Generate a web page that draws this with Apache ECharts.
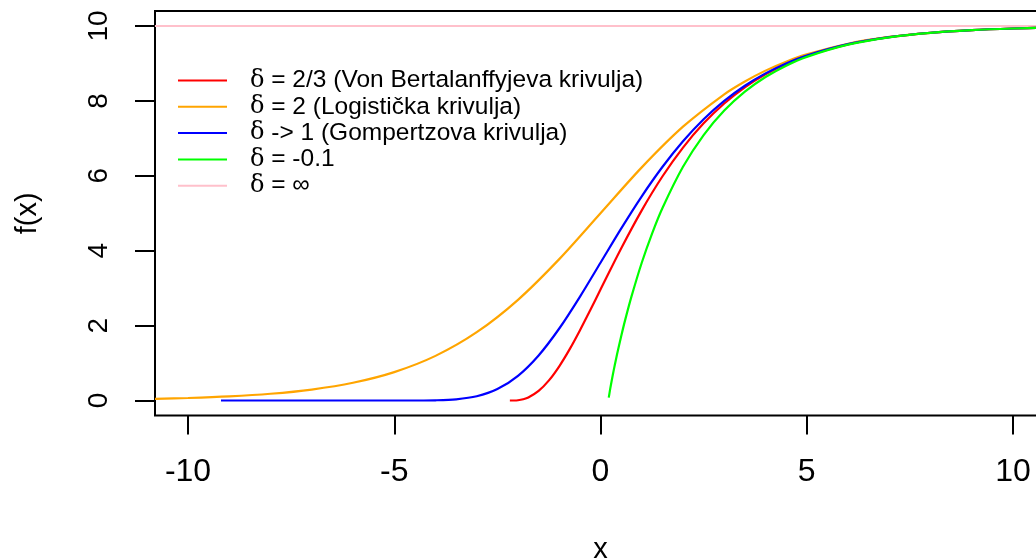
<!DOCTYPE html>
<html>
<head>
<meta charset="utf-8">
<script src="https://cdn.jsdelivr.net/npm/echarts@6/dist/echarts.min.js"></script>
<style>
html,body{margin:0;padding:0;background:#fff;}
#chart{width:1036px;height:560px;}
</style>
</head>
<body>
<div id="chart"></div>
<script>
// ---- data ----
var xTicks = [-10, -5, 0, 5, 10];
var yTicks = [0, 2, 4, 6, 8, 10];

var names = [
  'δ = 2/3 (Von Bertalanffyjeva krivulja)',
  'δ = 2 (Logistička krivulja)',
  'δ -> 1 (Gompertzova krivulja)',
  'δ = -0.1',
  'δ = ∞'
];
var colors = ['#FF0000', '#FFA500', '#0000FF', '#00FF00', '#FFC0CB'];

var redX = [-2.197, -2.1, -2, -1.875, -1.75, -1.5, -1.25, -1, -0.75, -0.5, -0.25, 0, 0.5, 1, 1.5, 2, 2.5, 3, 3.5, 4, 4.5, 5, 6, 7, 8, 9, 10, 10.8];
var redY = [0, 0.001, 0.008, 0.034, 0.080, 0.255, 0.537, 0.914, 1.365, 1.871, 2.410, 2.963, 4.059, 5.078, 5.981, 6.754, 7.400, 7.931, 8.361, 8.707, 8.983, 9.201, 9.510, 9.701, 9.818, 9.889, 9.933, 9.955];

var orangeX = [-10.8, -10, -9, -8, -7, -6, -5, -4, -3, -2, -1, 0, 1, 2, 3, 3.5, 4, 4.5, 5, 6, 7, 8, 9, 10, 10.8];
var orangeY = [0.045, 0.067, 0.110, 0.180, 0.293, 0.474, 0.759, 1.192, 1.824, 2.689, 3.775, 5.000, 6.225, 7.311, 8.176, 8.519, 8.808, 9.047, 9.241, 9.526, 9.707, 9.820, 9.890, 9.933, 9.955];

var blueX = [-9.2, -8, -7, -6, -5, -4.5, -4, -3.5, -3, -2.5, -2, -1.5, -1, -0.5, 0, 0.5, 1, 1.5, 2, 2.5, 3, 3.5, 4, 4.5, 5, 6, 7, 8, 9, 10, 10.8];
var blueY = [0, 0, 0, 0, 0.0001, 0.0008, 0.006, 0.032, 0.113, 0.305, 0.660, 1.204, 1.923, 2.769, 3.679, 4.590, 5.453, 6.235, 6.922, 7.509, 8.000, 8.405, 8.734, 9.000, 9.212, 9.514, 9.703, 9.819, 9.890, 9.933, 9.955];

var greenX = [0.2, 0.225, 0.25, 0.3, 0.35, 0.4, 0.5, 0.6, 0.75, 1, 1.25, 1.5, 2, 2.5, 3, 3.5, 4, 4.5, 5, 6, 7, 8, 9, 10, 10.8];
var greenY = [0.077, 0.245, 0.402, 0.695, 0.968, 1.226, 1.710, 2.160, 2.774, 3.679, 4.458, 5.135, 6.240, 7.088, 7.741, 8.246, 8.637, 8.940, 9.176, 9.501, 9.698, 9.817, 9.889, 9.933, 9.955];

var pinkX = [-10.8, 10.8];
var pinkY = [10, 10];
// ------------------------------------------------

function pairs(xs, ys) {
  return xs.map(function (x, i) { return [x, ys[i]]; });
}

var seriesData = [
  pairs(redX, redY),
  pairs(orangeX, orangeY),
  pairs(blueX, blueY),
  pairs(greenX, greenY),
  pairs(pinkX, pinkY)
];

var FONT = '"Liberation Sans", Arial, Helvetica, sans-serif';
var SERIF = '"DejaVu Serif", "Liberation Serif", serif';

var chart = echarts.init(document.getElementById('chart'), null, {renderer: 'canvas'});

var series = seriesData.map(function (d, i) {
  return {
    name: names[i],
    type: 'line',
    data: d,
    symbol: 'none',
    smooth: i === 4 ? false : 0.3,
    clip: true,
    color: colors[i],
    lineStyle: {color: colors[i], width: 2.2},
    itemStyle: {color: colors[i]},
    z: i === 4 ? 1 : 2 + i
  };
});

chart.setOption({
  animation: false,
  backgroundColor: '#ffffff',
  grid: {
    left: 155, top: 11, right: -10, bottom: 144.5,
    outerBoundsMode: 'none',
    containLabel: false,
    show: true, borderColor: '#000', borderWidth: 2, backgroundColor: 'transparent'
  },
  legend: {
    data: names,
    orient: 'vertical',
    left: 178,
    top: 68,
    padding: 0,
    itemWidth: 49,
    itemHeight: 2,
    itemGap: 1.3,
    icon: 'rect',
    selectedMode: false,
    formatter: function (name) {
      return '{d|δ}{t|' + name.slice(1) + '}';
    },
    textStyle: {
      color: '#000',
      fontFamily: FONT,
      fontSize: 24,
      rich: {
        d: {fontFamily: SERIF, fontSize: 24, lineHeight: 26, color: '#000', padding: [0, 0, 0, 18]},
        t: {fontFamily: FONT, fontSize: 24.5, lineHeight: 26, color: '#000'}
      }
    }
  },
  xAxis: {
    type: 'value',
    min: -10.8,
    max: 10.8,
    name: 'x',
    nameLocation: 'middle',
    nameGap: 119.5,
    nameTextStyle: {color: '#000', fontFamily: FONT, fontSize: 29},
    axisLine: {show: false, onZero: false},
    splitLine: {show: false},
    axisTick: {show: true, customValues: xTicks, length: 19, lineStyle: {color: '#000', width: 2}},
    axisLabel: {customValues: xTicks, margin: 41, color: '#000', fontFamily: FONT, fontSize: 32}
  },
  yAxis: {
    type: 'value',
    min: -0.4,
    max: 10.4,
    name: 'f(x)',
    nameLocation: 'middle',
    nameGap: 113,
    nameRotate: 90,
    nameTextStyle: {color: '#000', fontFamily: FONT, fontSize: 29},
    axisLine: {show: false, onZero: false},
    splitLine: {show: false},
    axisTick: {show: true, customValues: yTicks, length: 20, lineStyle: {color: '#000', width: 2}},
    axisLabel: {customValues: yTicks, rotate: 90, margin: 42, color: '#000', fontFamily: FONT, fontSize: 28}
  },
  series: series
});
</script>
</body>
</html>
